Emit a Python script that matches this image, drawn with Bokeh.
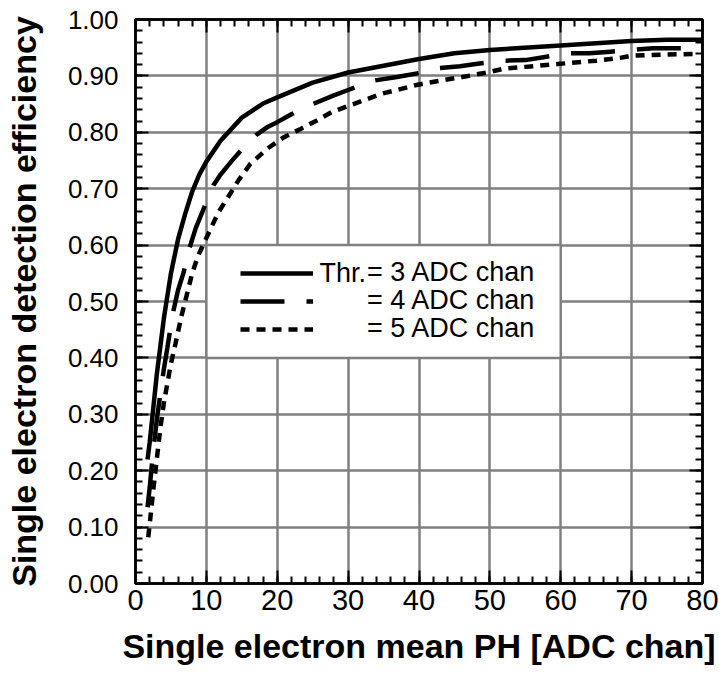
from bokeh.plotting import figure
from bokeh.models import (Range1d, LinearAxis, SingleIntervalTicker, NumeralTickFormatter,
                          CustomJSTickFormatter, Legend, LegendItem, Label, BoxAnnotation)
from bokeh.embed import file_html
from bokeh.resources import INLINE

# ---- data ----
x_thr3 = [1.7, 2.0, 2.5, 3.0, 3.5, 4.0, 4.5, 5.0, 6.0, 7.0, 8.0, 9.0, 10, 12, 15, 18, 20,
          25, 30, 35, 40, 45, 50, 60, 70, 75, 80]
y_thr3 = [0.22, 0.25, 0.31, 0.37, 0.42, 0.47, 0.51, 0.55, 0.61, 0.655, 0.695, 0.725, 0.748,
          0.785, 0.826, 0.851, 0.862, 0.888, 0.906, 0.918, 0.930, 0.940, 0.946, 0.954, 0.962,
          0.964, 0.964]

x_thr4 = [1.7, 2.0, 2.5, 3.0, 3.5, 4.0, 4.5, 5.2, 6.0, 6.8, 7.5, 8.5, 9.6, 11.0, 12.0, 13.5,
          15.6, 17.0, 18.7, 20, 22, 24.8, 27.9, 30, 33.8, 36.9, 40, 42.8, 45.8, 48, 52, 55,
          58, 61, 64, 67, 70, 73, 76, 79.5]
y_thr4 = [0.135, 0.17, 0.235, 0.29, 0.335, 0.38, 0.418, 0.475, 0.52, 0.552, 0.59, 0.63, 0.664,
          0.706, 0.725, 0.748, 0.778, 0.795, 0.81, 0.818, 0.832, 0.849, 0.865, 0.875, 0.892,
          0.898, 0.905, 0.914, 0.917, 0.921, 0.927, 0.928, 0.934, 0.940, 0.940, 0.943, 0.946,
          0.949, 0.949, 0.949]

x_thr5 = [1.8, 2.0, 2.5, 3.0, 3.5, 4.0, 4.5, 5.0, 5.64, 6.5, 7.2, 8.0, 8.8, 9.6, 10.6, 11.7,
          13.2, 14.6, 16.2, 18.6, 20.9, 23.3, 25.6, 27.7, 30.3, 32.7, 34.6, 36.9, 39.3, 41.3,
          43.7, 46.1, 50, 52, 55, 59.5, 65, 68.4, 70, 75, 79.2]
y_thr5 = [0.082, 0.105, 0.165, 0.22, 0.275, 0.32, 0.355, 0.39, 0.425, 0.475, 0.51, 0.55, 0.58,
          0.602, 0.629, 0.658, 0.688, 0.716, 0.744, 0.771, 0.791, 0.806, 0.821, 0.836, 0.848,
          0.859, 0.868, 0.875, 0.883, 0.888, 0.893, 0.898, 0.907, 0.913, 0.916, 0.921, 0.927,
          0.932, 0.936, 0.938, 0.939]

labels = ["= 3 ADC chan", "= 4 ADC chan", "= 5 ADC chan"]
legend_prefix = "Thr."
x_title = "Single electron mean PH [ADC chan]"
y_title = "Single electron detection efficiency"
legend_cell = dict(left=10, right=60, bottom=0.4, top=0.6)

FONT = "Liberation Sans"
GRID = "#808080"

p = figure(width=719, height=673, output_backend="svg", toolbar_location=None,
           x_range=Range1d(0, 80), y_range=Range1d(0, 1.0),
           x_axis_location=None, y_axis_location=None,
           min_border_left=135, min_border_right=17, min_border_top=19, min_border_bottom=90)
p.outline_line_color = "black"
p.outline_line_width = 2.5
p.background_fill_color = "white"
p.border_fill_color = "white"

xt = SingleIntervalTicker(interval=10, num_minor_ticks=5)
yt = SingleIntervalTicker(interval=0.1, num_minor_ticks=5)


def style_axis(ax, labelled):
    ax.axis_line_color = "black"
    ax.axis_line_width = 2.5
    ax.major_tick_in = 13
    ax.major_tick_out = 0
    ax.minor_tick_in = 7
    ax.minor_tick_out = 0
    ax.major_tick_line_width = 2
    ax.minor_tick_line_width = 2
    ax.major_tick_line_color = "black"
    ax.minor_tick_line_color = "black"
    ax.major_label_text_color = "black"
    ax.axis_label_text_color = "black"
    if not labelled:
        ax.formatter = CustomJSTickFormatter(code="return ''")
        ax.major_label_text_font_size = "0px"
        ax.major_label_standoff = 0


xb = LinearAxis(ticker=xt, axis_label=x_title)
style_axis(xb, True)
xb.major_label_text_font = FONT
xb.major_label_text_font_size = "29px"
xb.major_label_standoff = 6
xb.axis_label_text_font = FONT
xb.axis_label_text_font_style = "bold"
xb.axis_label_text_font_size = "34px"
xb.axis_label_standoff = 14
p.add_layout(xb, "below")

yl = LinearAxis(ticker=yt, axis_label=y_title, formatter=NumeralTickFormatter(format="0.00"))
style_axis(yl, True)
yl.major_label_text_font = FONT
yl.major_label_text_font_size = "26px"
yl.major_label_standoff = 17
yl.axis_label_text_font = FONT
yl.axis_label_text_font_style = "bold"
yl.axis_label_text_font_size = "34px"
yl.axis_label_standoff = 22
p.add_layout(yl, "left")

xa = LinearAxis(ticker=xt)
style_axis(xa, False)
p.add_layout(xa, "above")
yr = LinearAxis(ticker=yt)
style_axis(yr, False)
p.add_layout(yr, "right")

p.xgrid.ticker = xt
p.ygrid.ticker = yt
p.xgrid.grid_line_color = GRID
p.ygrid.grid_line_color = GRID
p.xgrid.grid_line_width = 2.5
p.ygrid.grid_line_width = 2.5

r3 = p.line(x_thr3, y_thr3, line_color="black", line_width=4.5)
r4 = p.line(x_thr4, y_thr4, line_color="black", line_width=4.5, line_dash="44 22")
r5 = p.line(x_thr5, y_thr5, line_color="black", line_width=4.5, line_dash="9 7")

box = BoxAnnotation(fill_color="white", fill_alpha=1.0, line_color=GRID, line_width=2.5,
                    line_alpha=1.0, **legend_cell)
p.add_layout(box)

# one legend per row, so that the rows can sit closer than Bokeh's own item spacing
for lab, rend, vy in zip(labels, [r3, r4, r5], [295, 267, 239]):
    lg = Legend(items=[LegendItem(label=lab, renderers=[rend])],
                location=(105, vy), glyph_width=73, glyph_height=28, label_height=28,
                label_standoff=54, padding=0, spacing=0, margin=0,
                background_fill_alpha=0, border_line_alpha=0,
                label_text_font=FONT, label_text_font_size="27px",
                label_text_color="black")
    p.add_layout(lg)

p.add_layout(Label(x=184, y=311, x_units="screen", y_units="screen", text=legend_prefix,
                   text_baseline="middle", text_font=FONT, text_font_size="27px",
                   text_color="black"))

open("out.html", "w").write(file_html(p, INLINE))
